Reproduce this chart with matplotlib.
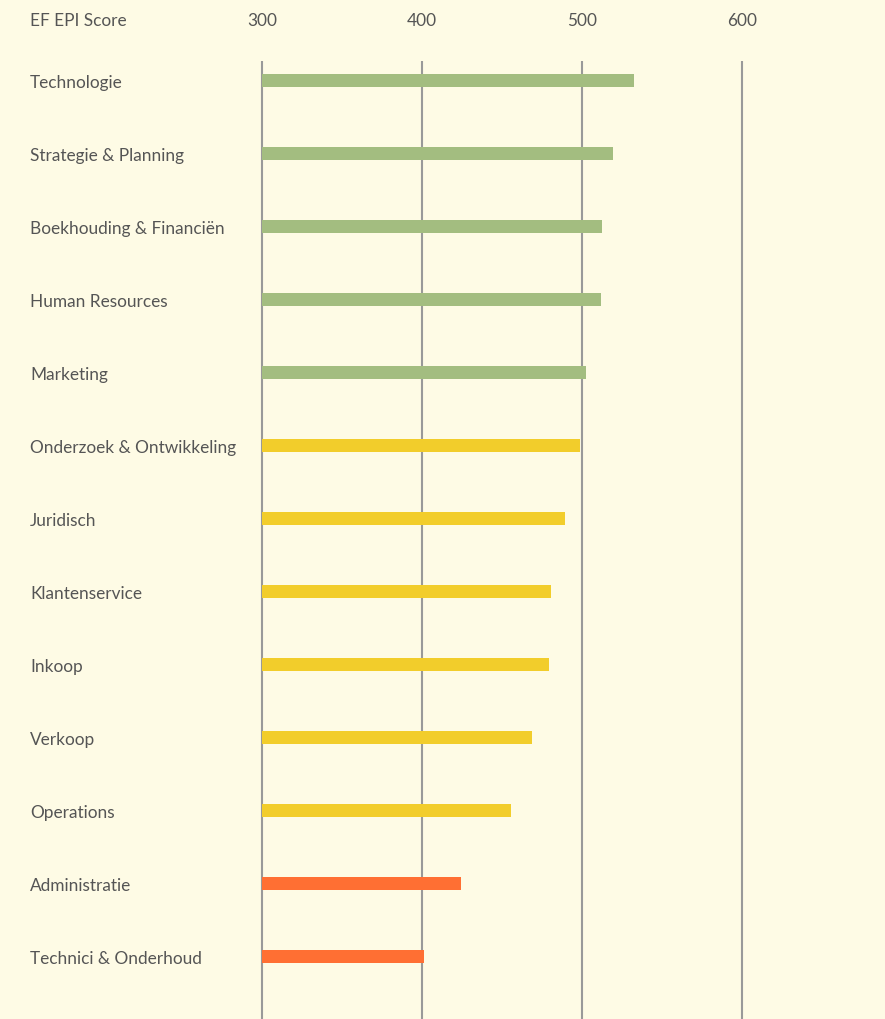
import matplotlib.pyplot as plt

categories = ["Technologie", "Strategie & Planning", "Boekhouding & Financiën",
              "Human Resources", "Marketing", "Onderzoek & Ontwikkeling",
              "Juridisch", "Klantenservice", "Inkoop", "Verkoop",
              "Operations", "Administratie", "Technici & Onderhoud"]
scores = [532.5, 519.4, 512.5, 511.9, 502.5, 498.8, 489.4, 480.6, 479.4,
          468.8, 455.6, 424.4, 401.0]
levels = ["high"] * 5 + ["mid"] * 6 + ["low"] * 2
ticks = [300, 400, 500, 600]

level_colors = {"high": "#a3bd80", "mid": "#f2cd2b", "low": "#ff6f33"}
bg = "#fefbe5"
text_color = "#555555"

plt.rcParams['font.family'] = ['Lato', 'DejaVu Sans']

fig = plt.figure(figsize=(8.85, 10.2), dpi=100, facecolor=bg)
ax = fig.add_axes([0, 0, 1, 1])
ax.set_facecolor(bg)

# 300 sits at x=262px, 100 units = 160px
x0 = 300 - 262 / 1.6
x1 = 300 + (885 - 262) / 1.6
ax.set_xlim(x0, x1)
# row pitch 73px, first row centred at 81px
ax.set_ylim((1020 - 81) / 73, -81 / 73)

ypos = list(range(len(categories)))
ax.vlines(ticks, (62 - 81) / 73, (1020 - 81) / 73, color="#999999", lw=1.5, zorder=1)
ax.barh(ypos, [s - 300 for s in scores], left=300, height=13 / 73,
        color=[level_colors[l] for l in levels], zorder=2)

nudge = 2 / 73  # text sits a touch lower than the bar centre
for y, name in zip(ypos, categories):
    ax.text(x0 + 30 / 1.6, y + nudge, name, va="center", ha="left", fontsize=12.4, color=text_color)

head_y = (19 - 81) / 73 + nudge
ax.text(x0 + 30 / 1.6, head_y, "EF EPI Score", va="center", ha="left", fontsize=12.4, color=text_color)
for t in ticks:
    ax.text(t, head_y, str(t), va="center", ha="center", fontsize=12.4, color=text_color)

ax.axis("off")
fig.savefig("out.png", dpi=100, facecolor=bg)
